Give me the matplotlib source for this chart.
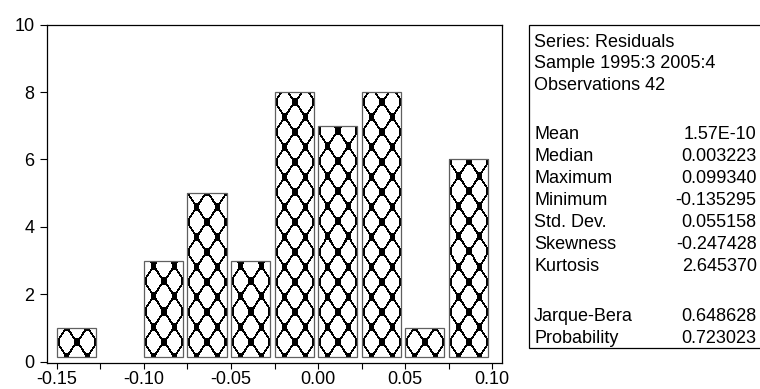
import numpy as np
import matplotlib
matplotlib.use("Agg")
import matplotlib.pyplot as plt
from matplotlib.patches import Rectangle

plt.rcParams['font.family'] = ['Liberation Sans', 'DejaVu Sans']
plt.rcParams['axes.unicode_minus'] = False

# ---- data ----
bin_edges = [-0.150, -0.125, -0.100, -0.075, -0.050, -0.025, 0.000, 0.025, 0.050, 0.075]
counts = [1, 0, 3, 5, 3, 8, 7, 8, 1, 6]
bin_width = 0.025
x_ticks = [-0.15, -0.10, -0.05, 0.00, 0.05, 0.10]
x_tick_labels = ['-0.15', '-0.10', '-0.05', '0.00', '0.05', '0.10']
x_minor = [-0.125, -0.075, -0.025, 0.025, 0.075]
y_ticks = [0, 2, 4, 6, 8, 10]
y_tick_labels = ['0', '2', '4', '6', '8', '10']
header_lines = ['Series: Residuals', 'Sample 1995:3 2005:4', 'Observations 42']
stat_names = ['Mean', 'Median', 'Maximum', 'Minimum', 'Std. Dev.', 'Skewness',
              'Kurtosis', 'Jarque-Bera', 'Probability']
stat_values = ['1.57E-10', '0.003223', '0.099340', '-0.135295', '0.055158',
               '-0.247428', '2.645370', '0.648628', '0.723023']

# ---- figure ----
W_PX, H_PX, DPI = 760, 389, 100
fig = plt.figure(figsize=(W_PX / DPI, H_PX / DPI), dpi=DPI)
fig.patch.set_facecolor('white')

def fx(px):
    return px / W_PX

def fy(py):
    return 1 - py / H_PX

ax_l, ax_r, ax_t, ax_b = 46.7, 501.7, 24.7, 362.5
ax = fig.add_axes([fx(ax_l), fy(ax_b), (ax_r - ax_l) / W_PX, (ax_b - ax_t) / H_PX])
ax.set_xlim(-0.15574, 0.10539)
ax.set_ylim(-0.024, 10)

FS = 13
BAR_FRAC = 0.9      # bar width as fraction of bin
BAR_LIFT = 0.14     # small gap between bars and the axis

bars = ax.bar(bin_edges, [max(c - BAR_LIFT, 0) for c in counts], bottom=BAR_LIFT,
              width=bin_width * BAR_FRAC, align='edge',
              facecolor='none', edgecolor='#606060', linewidth=0.9, zorder=4)

def pattern(wpx, hpx, W=19.5, H=30.0, lw=1.2, nx=2.6, ny=3.8):
    x = np.arange(wpx) + 0.5
    y = np.arange(hpx) + 0.5
    X, Y = np.meshgrid(x, y)
    u = X / W
    v = Y / H
    d1 = np.abs(((u - v) % 1.0) - 0.5) * W
    d2 = np.abs(((u + v) % 1.0) - 0.5) * W
    black = (d1 < lw) | (d2 < lw)
    dxa = (((u + 0.5) % 1.0) - 0.5) * W
    dya = ((v % 1.0) - 0.5) * H
    dxb = ((u % 1.0) - 0.5) * W
    dyb = (((v + 0.5) % 1.0) - 0.5) * H
    black |= (np.abs(dxa) < nx) & (np.abs(dya) < ny)
    black |= (np.abs(dxb) < nx) & (np.abs(dyb) < ny)
    img = np.where(black, 0.0, 1.0)
    return img

for rect, c in zip(bars.patches, counts):
    if c <= 0:
        rect.set_visible(False)
        continue
    x0 = rect.get_x()
    x1 = x0 + rect.get_width()
    y0 = rect.get_y()
    y1 = y0 + rect.get_height()
    p0 = ax.transData.transform((x0, y0))
    p1 = ax.transData.transform((x1, y1))
    wpx = max(int(round(p1[0] - p0[0])), 1)
    hpx = max(int(round(p1[1] - p0[1])), 1)
    img = pattern(wpx, hpx)
    im = ax.imshow(img, cmap='gray', vmin=0, vmax=1, origin='lower',
                   extent=(x0, x1, y0, y1), interpolation='nearest',
                   aspect='auto', zorder=3)
    im.set_clip_path(rect)

ax.set_xlim(-0.15574, 0.10539)
ax.set_ylim(-0.024, 10)

for s in ax.spines.values():
    s.set_color('black')
    s.set_linewidth(0.9)

ax.set_xticks(x_ticks)
ax.set_xticklabels(x_tick_labels)
ax.set_xticks(x_minor, minor=True)
ax.set_yticks(y_ticks)
ax.set_yticklabels(y_tick_labels)
ax.tick_params(axis='x', which='both', direction='out', length=4.3, width=0.8,
               pad=2, labelsize=FS, colors='black')
ax.tick_params(axis='y', which='both', direction='out', length=4.8, width=0.8,
               pad=4, labelsize=FS, colors='black')

# ---- statistics box ----
box_l, box_t, box_b = 529.3, 24.7, 348.3
fig.patches.append(Rectangle((fx(box_l), fy(box_b)), (770 - box_l) / W_PX,
                             (box_b - box_t) / H_PX, transform=fig.transFigure,
                             facecolor='white', edgecolor='black', linewidth=0.9))

txt_l, txt_r = 534.0, 756.7
header_y = [41.0, 62.0, 83.5]
stat_y = [133.0, 155.0, 177.0, 199.0, 221.0, 243.0, 265.0, 315.0, 337.0]
cap_half = 6.4
for s, yy in zip(header_lines, header_y):
    fig.text(fx(txt_l), fy(yy + cap_half), s, ha='left', va='baseline',
             fontsize=FS, color='black')
for n, v, yy in zip(stat_names, stat_values, stat_y):
    fig.text(fx(txt_l), fy(yy + cap_half), n, ha='left', va='baseline',
             fontsize=FS, color='black')
    fig.text(fx(txt_r), fy(yy + cap_half), v, ha='right', va='baseline',
             fontsize=FS, color='black')

fig.savefig('out.png', dpi=DPI, facecolor='white')
